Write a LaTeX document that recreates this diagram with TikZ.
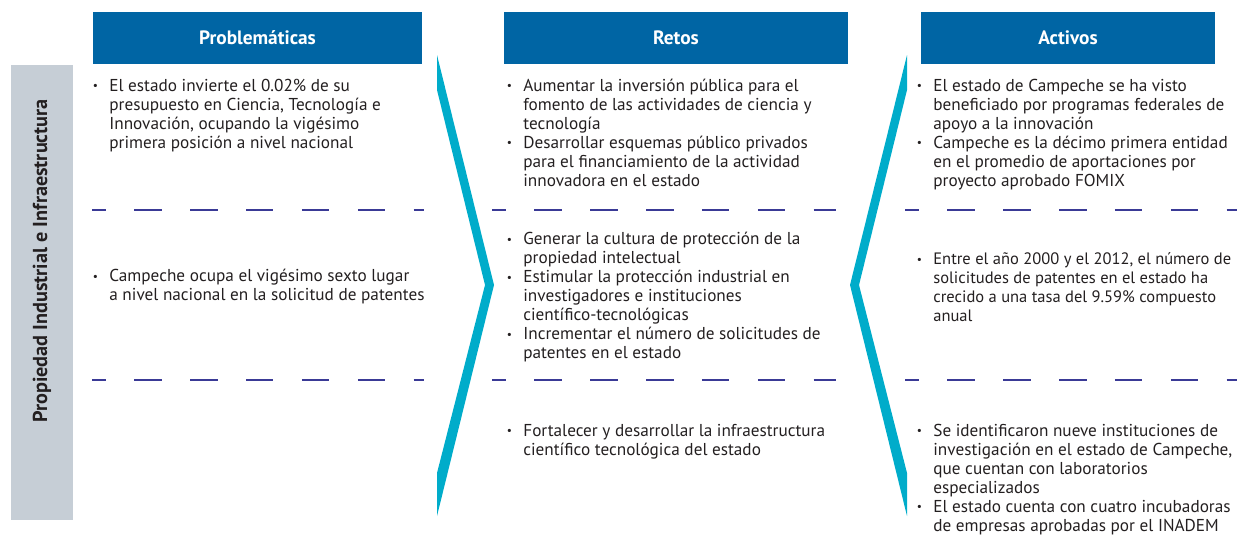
\documentclass[tikz,border=0pt]{standalone}
\usepackage{fontspec}
\setmainfont{PT Sans}
\usetikzlibrary{positioning}

\definecolor{headblue}{RGB}{0,101,164}
\definecolor{chevcyan}{RGB}{0,172,202}
\definecolor{bargray}{RGB}{198,206,214}
\definecolor{sepblue}{RGB}{58,58,150}
\definecolor{txtgray}{RGB}{35,31,32}

\newcommand{\bul}{\strut\llap{\raisebox{0.8pt}{\fontsize{6.5}{6.5}\selectfont\textbullet}\hspace{6.5pt}}}

\begin{document}
\begin{tikzpicture}[
    x=0.02cm,y=-0.02cm,
    head/.style={fill=headblue,text=white,font=\bfseries\fontsize{11}{12}\selectfont,minimum height=1.04cm,inner sep=0pt},
    cell/.style={anchor=north west,inner sep=0pt,align=left,text=txtgray,font=\fontsize{9.8}{10.8}\selectfont},
    chev/.style={fill=chevcyan},
    sepline/.style={draw=sepblue,line width=1.5pt,dash pattern=on 15.6pt off 16.2pt,dash phase=7.7pt},
  ]

  \useasboundingbox (0,0) rectangle (1239,535);

  % headers

  \node (hp) at (257.5,38) [head,minimum width=6.58cm] {Problemáticas};
  \node (hr) at (676,38) [head,minimum width=6.88cm] {Retos};
  \node (ha) at (1068,38) [head,minimum width=5.88cm] {Activos};

  % side bar

  \node (bar) at (42,292.5) [fill=bargray,minimum width=1.24cm,minimum height=9.1cm,inner sep=0pt] {};
  \node (lbl) at (42,261) [rotate=90,text=txtgray,font=\bfseries\fontsize{11.5}{12}\selectfont] {Propiedad Industrial e Infraestructura};

  % chevrons

  \fill[chev] (437,55) -- (494,285) -- (437,516) -- (437,473) -- (485,285) -- (437,90) -- cycle;
  \fill[chev] (907,55) -- (850,285) -- (907,516) -- (907,473) -- (859,285) -- (907,90) -- cycle;

  % separators

  \foreach \y in {210,380} {
    \draw[sepline] (92,\y) -- (424,\y);
    \draw[sepline] (492,\y) -- (836,\y);
    \draw[sepline] (905,\y) -- (1237,\y);
  }

  % column 1 (tops are first baseline minus strut height)

  \node (p1) at (109,77.7) [cell] {\bul El estado invierte el 0.02\% de su\\
    presupuesto en Ciencia, Tecnología e\\
    Innovación, ocupando la vigésimo\\
    primera posición a nivel nacional};
  \node (p2) at (109,268.2) [cell] {\bul Campeche ocupa el vigésimo sexto lugar\\
    a nivel nacional en la solicitud de patentes};

  % column 2

  \node (r1) at (523,77.7) [cell] {\bul Aumentar la inversión pública para el\\
    fomento de las actividades de ciencia y\\
    tecnología\\
    \bul Desarrollar esquemas público privados\\
    para el financiamiento de la actividad\\
    innovadora en el estado};
  \node (r2) at (523,231.2) [cell] {\bul Generar la cultura de protección de la\\
    propiedad intelectual\\
    \bul Estimular la protección industrial en\\
    investigadores e instituciones\\
    científico-tecnológicas\\
    \bul Incrementar el número de solicitudes de\\
    patentes en el estado};
  \node (r3) at (523,422.7) [cell] {\bul Fortalecer y desarrollar la infraestructura\\
    científico tecnológica del estado};

  % column 3

  \node (a1) at (933,77.7) [cell] {\bul El estado de Campeche se ha visto\\
    beneficiado por programas federales de\\
    apoyo a la innovación\\
    \bul Campeche es la décimo primera entidad\\
    en el promedio de aportaciones por\\
    proyecto aprobado FOMIX};
  \node (a2) at (933,251.2) [cell,font=\fontsize{9.4}{10.8}\selectfont] {\bul Entre el año 2000 y el 2012, el número de\\
    solicitudes de patentes en el estado ha\\
    crecido a una tasa del 9.59\% compuesto\\
    anual};
  \node (a3) at (933,422.7) [cell] {\bul Se identificaron nueve instituciones de\\
    investigación en el estado de Campeche,\\
    que cuentan con laboratorios\\
    especializados\\
    \bul El estado cuenta con cuatro incubadoras\\
    de empresas aprobadas por el INADEM};

\end{tikzpicture}
\end{document}
